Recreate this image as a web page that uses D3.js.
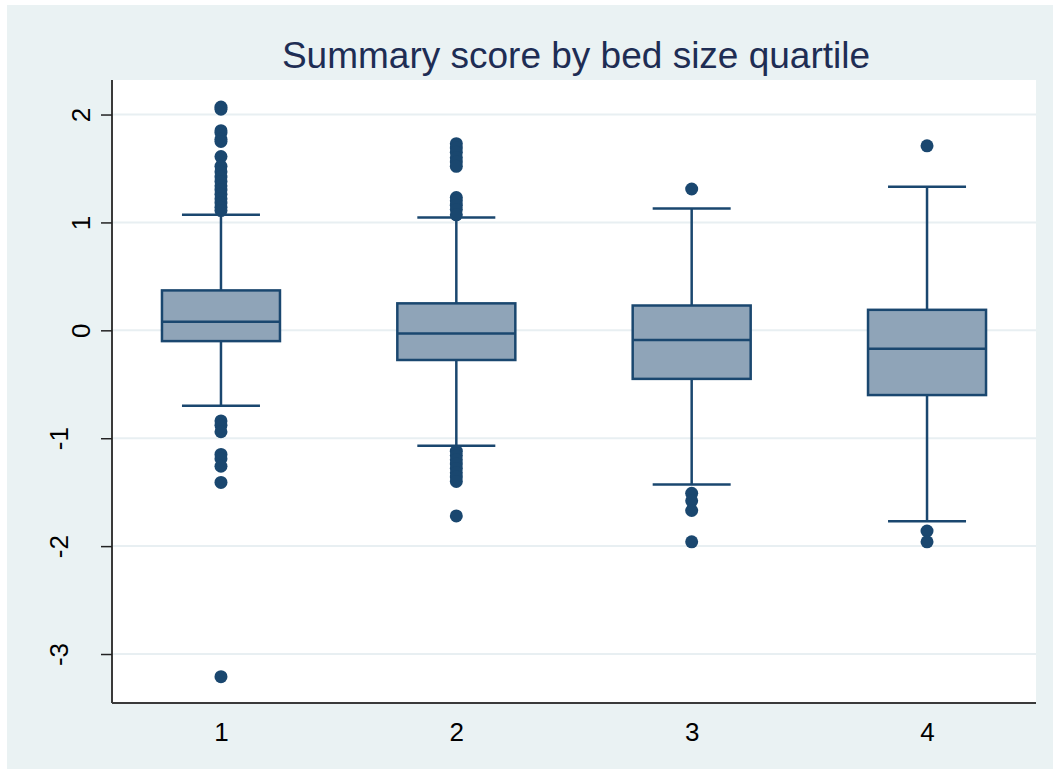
<!DOCTYPE html>
<html>
<head>
<meta charset="utf-8">
<script src="https://cdn.jsdelivr.net/npm/d3@7"></script>
<style>
  html, body { margin: 0; padding: 0; background: #ffffff; }
  svg { display: block; }
  text { font-family: "Liberation Sans", Arial, sans-serif; }
</style>
</head>
<body>
<svg id="chart" width="1053" height="769"></svg>
<script>
// Box plot summaries for each bed size quartile
const quartiles = ["1", "2", "3", "4"];
const q1Values = [-0.10, -0.275, -0.45, -0.60];
const medianValues = [0.08, -0.03, -0.09, -0.17];
const q3Values = [0.37, 0.25, 0.23, 0.19];
const lowerWhiskers = [-0.70, -1.07, -1.43, -1.77];
const upperWhiskers = [1.07, 1.045, 1.13, 1.33];

// Outside values per quartile
const outliers1 = [2.07, 2.05, 1.85, 1.83, 1.77, 1.75, 1.61, 1.52, 1.47, 1.42, 1.38, 1.34,
  1.30, 1.26, 1.22, 1.18, 1.14, 1.11, -0.84, -0.88, -0.94, -1.15, -1.19, -1.26, -1.41, -3.21];
const outliers2 = [1.73, 1.69, 1.65, 1.60, 1.56, 1.52, 1.23, 1.20, 1.16, 1.12, 1.07,
  -1.12, -1.16, -1.20, -1.24, -1.28, -1.32, -1.36, -1.40, -1.72];
const outliers3 = [1.31, -1.51, -1.58, -1.67, -1.96];
const outliers4 = [1.71, -1.86, -1.96];
const outlierSets = [outliers1, outliers2, outliers3, outliers4];

const yTicks = [-3, -2, -1, 0, 1, 2];
const titleText = "Summary score by bed size quartile";

const navy = "#1a476f";
const boxFill = "#8fa4b8";
const gridColor = "#e8eff2";

const svg = d3.select("#chart");
const W = 1053, H = 769;
const plot = { left: 112, right: 1036, top: 80, bottom: 703 };

// Outer graph region
svg.append("rect").attr("x", 7).attr("y", 5).attr("width", W - 7).attr("height", H - 5)
  .attr("fill", "#eaf2f3");
svg.append("rect").attr("x", plot.left).attr("y", plot.top)
  .attr("width", plot.right - plot.left).attr("height", plot.bottom - plot.top)
  .attr("fill", "#ffffff");

const x = d3.scalePoint().domain(quartiles).range([plot.left, plot.right]).padding(0.463);
const y = d3.scaleLinear().domain([-3.454, 2.32]).range([plot.bottom, plot.top]);

// Horizontal gridlines
svg.append("g").selectAll("line").data(yTicks).join("line")
  .attr("x1", plot.left).attr("x2", plot.right)
  .attr("y1", d => y(d)).attr("y2", d => y(d))
  .attr("stroke", gridColor).attr("stroke-width", 2);

// Axes
const yAxis = svg.append("g").attr("transform", `translate(${plot.left},0)`)
  .call(d3.axisLeft(y).tickValues(yTicks).tickSize(11).tickFormat(d => String(d)));
const xAxis = svg.append("g").attr("transform", `translate(0,${plot.bottom})`)
  .call(d3.axisBottom(x).tickSize(0));

[yAxis, xAxis].forEach(g => {
  g.attr("font-size", 26).attr("font-family", "'Liberation Sans', Arial, sans-serif");
  g.select(".domain").attr("stroke", "#3a3a3a").attr("stroke-width", 2);
  g.selectAll(".tick line").attr("stroke", "#222").attr("stroke-width", 1.5);
  g.selectAll("text").attr("fill", "#000");
});
yAxis.select(".domain").attr("d", `M0,${plot.top}V${plot.bottom}`);
xAxis.select(".domain").attr("d", `M${plot.left},0H${plot.right}`);
xAxis.selectAll("text").attr("dy", null).attr("y", 38);

// Rotated y tick labels
yAxis.selectAll(".tick text")
  .attr("text-anchor", "middle")
  .attr("dy", null).attr("x", null)
  .attr("transform", d => `translate(${d < 0 ? -44 : -22},0) rotate(-90)`)
  .attr("y", 0);

// Boxes
const boxW = 118, capW = 78;
const g = svg.append("g");
quartiles.forEach((q, i) => {
  const cx = x(q);
  const grp = g.append("g");
  // whiskers
  grp.append("line").attr("x1", cx).attr("x2", cx)
    .attr("y1", y(q3Values[i])).attr("y2", y(upperWhiskers[i]))
    .attr("stroke", navy).attr("stroke-width", 2.5);
  grp.append("line").attr("x1", cx).attr("x2", cx)
    .attr("y1", y(q1Values[i])).attr("y2", y(lowerWhiskers[i]))
    .attr("stroke", navy).attr("stroke-width", 2.5);
  [upperWhiskers[i], lowerWhiskers[i]].forEach(v => {
    grp.append("line").attr("x1", cx - capW / 2).attr("x2", cx + capW / 2)
      .attr("y1", y(v)).attr("y2", y(v))
      .attr("stroke", navy).attr("stroke-width", 2.5);
  });
  // box
  grp.append("rect").attr("x", cx - boxW / 2).attr("y", y(q3Values[i]))
    .attr("width", boxW).attr("height", y(q1Values[i]) - y(q3Values[i]))
    .attr("fill", boxFill).attr("stroke", navy).attr("stroke-width", 2.5);
  grp.append("line").attr("x1", cx - boxW / 2).attr("x2", cx + boxW / 2)
    .attr("y1", y(medianValues[i])).attr("y2", y(medianValues[i]))
    .attr("stroke", navy).attr("stroke-width", 2.5);
  // outside values
  grp.selectAll("circle").data(outlierSets[i]).join("circle")
    .attr("cx", cx).attr("cy", d => y(d)).attr("r", 6.5)
    .attr("fill", navy);
});

// Title
svg.append("text").attr("x", (plot.left + plot.right) / 2 + 2).attr("y", 68)
  .attr("text-anchor", "middle").attr("font-size", 37).attr("fill", "#1e2d54")
  .text(titleText);
</script>
</body>
</html>
